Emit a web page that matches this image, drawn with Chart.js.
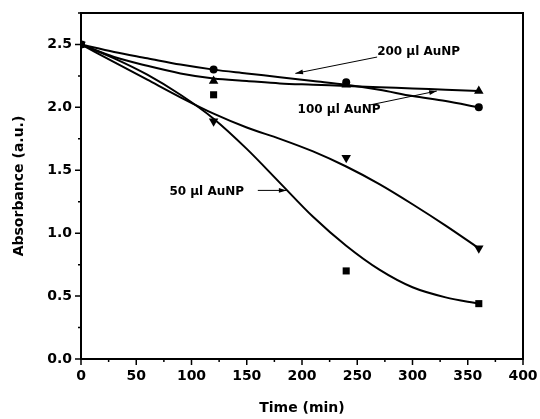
<!DOCTYPE html>
<html>
<head>
<meta charset="utf-8">
<script src="https://cdn.jsdelivr.net/npm/chart.js@4/dist/chart.umd.min.js"></script>
<style>
  html, body { margin: 0; padding: 0; background: #fff; }
  #wrap { width: 540px; height: 419px; }
</style>
</head>
<body>
<div id="wrap"><canvas id="chart" width="540" height="419"></canvas></div>
<script>
// measured points
const timeMin = [0, 120, 240, 360];
const abs200 = [2.5, 2.3, 2.2, 2.0];     // circles
const abs100 = [2.5, 2.21, 2.18, 2.13];  // up triangles
const abs50 = [2.5, 2.1, 0.7, 0.44];     // squares
const absDown = [2.5, 1.89, 1.6, 0.88];  // down triangles

// fitted curves
const fitTime = [0, 30, 60, 90, 120, 150, 180, 210, 240, 270, 300, 330, 360];
const fit200 = [2.5, 2.44, 2.39, 2.34, 2.30, 2.27, 2.24, 2.21, 2.18, 2.14, 2.09, 2.05, 2.0];
const fit100 = [2.5, 2.40, 2.33, 2.27, 2.23, 2.21, 2.19, 2.18, 2.17, 2.16, 2.15, 2.14, 2.13];
const fit50 = [2.5, 2.39, 2.26, 2.10, 1.91, 1.67, 1.40, 1.13, 0.90, 0.71, 0.57, 0.49, 0.44];
const fitDown = [2.5, 2.36, 2.22, 2.08, 1.95, 1.84, 1.75, 1.65, 1.53, 1.39, 1.23, 1.06, 0.88];

const labelText = ['200 \u00b5l AuNP', '100 \u00b5l AuNP', '50 \u00b5l AuNP'];

const FONT = '"DejaVu Sans", sans-serif';

function pts(xs, ys) {
    return xs.map((x, i) => ({ x: x, y: ys[i] }));
}

function markers(data, style, rot, r) {
    return {
        type: 'scatter',
        data: pts(timeMin, data),
        pointStyle: style,
        rotation: rot,
        pointRadius: r,
        backgroundColor: '#000',
        borderColor: '#000',
        borderWidth: 0,
        showLine: false
    };
}

function curve(data) {
    return {
        type: 'line',
        data: pts(fitTime, data),
        borderColor: '#000',
        borderWidth: 2,
        pointRadius: 0,
        cubicInterpolationMode: 'monotone',
        fill: false
    };
}

// border box, minor/major outward ticks
const frame = {
    id: 'frame',
    afterDraw(chart) {
        const { ctx, chartArea: a, scales: { x, y } } = chart;
        ctx.save();
        ctx.strokeStyle = '#000';
        ctx.lineWidth = 2;
        ctx.strokeRect(a.left, a.top, a.right - a.left, a.bottom - a.top);
        ctx.lineWidth = 1.5;
        ctx.beginPath();
        for (let t = 0; t <= 400; t += 25) {
            const px = x.getPixelForValue(t);
            const len = t % 50 === 0 ? 6 : 3;
            ctx.moveTo(px, a.bottom);
            ctx.lineTo(px, a.bottom + len);
        }
        for (let v = 0; v <= 2.75; v += 0.25) {
            const py = y.getPixelForValue(v);
            const len = Math.round(v * 4) % 2 === 0 ? 6 : 3;
            ctx.moveTo(a.left, py);
            ctx.lineTo(a.left - len, py);
        }
        ctx.stroke();
        ctx.restore();
    }
};

function arrow(ctx, x1, y1, x2, y2) {
    const ang = Math.atan2(y2 - y1, x2 - x1);
    ctx.beginPath();
    ctx.moveTo(x1, y1);
    ctx.lineTo(x2, y2);
    ctx.stroke();
    ctx.beginPath();
    ctx.moveTo(x2, y2);
    ctx.lineTo(x2 - 8 * Math.cos(ang - 0.3), y2 - 8 * Math.sin(ang - 0.3));
    ctx.lineTo(x2 - 8 * Math.cos(ang + 0.3), y2 - 8 * Math.sin(ang + 0.3));
    ctx.closePath();
    ctx.fill();
}

const notes = {
    id: 'notes',
    afterDatasetsDraw(chart) {
        const { ctx, scales: { x, y } } = chart;
        const X = v => x.getPixelForValue(v);
        const Y = v => y.getPixelForValue(v);
        ctx.save();
        ctx.fillStyle = '#000';
        ctx.strokeStyle = '#000';
        ctx.lineWidth = 1;
        ctx.font = 'bold 12px ' + FONT;
        ctx.textBaseline = 'middle';
        ctx.textAlign = 'left';
        ctx.fillText(labelText[0], X(268), Y(2.44));
        arrow(ctx, X(268), Y(2.40), X(194), Y(2.27));
        ctx.fillText(labelText[1], X(196), Y(1.98));
        arrow(ctx, X(262), Y(2.02), X(322), Y(2.13));
        ctx.fillText(labelText[2], X(80), Y(1.325));
        arrow(ctx, X(160), Y(1.34), X(186), Y(1.34));
        ctx.restore();
    }
};

new Chart(document.getElementById('chart'), {
    data: {
        datasets: [
            curve(fit200),
            curve(fit100),
            curve(fit50),
            curve(fitDown),
            markers(abs200, 'circle', 0, 4),
            markers(abs100, 'triangle', 0, 5.5),
            markers(abs50, 'rect', 0, 5),
            markers(absDown, 'triangle', 180, 5.5)
        ]
    },
    options: {
        responsive: false,
        animation: false,
        layout: { padding: { top: 13, right: 17, left: 0, bottom: 0 } },
        plugins: {
            legend: { display: false },
            tooltip: { enabled: false }
        },
        scales: {
            x: {
                type: 'linear',
                min: 0,
                max: 400,
                grid: { display: false, drawTicks: false, tickLength: 0 },
                border: { display: false },
                afterFit(s) { s.height = 60; s.paddingLeft = 0; s.paddingRight = 0; },
                ticks: {
                    stepSize: 50,
                    padding: 9,
                    color: '#000',
                    maxRotation: 0,
                    font: { family: FONT, size: 14, weight: 'bold' }
                },
                title: {
                    display: true,
                    text: 'Time (min)',
                    color: '#000',
                    padding: { top: 4, bottom: 2 },
                    font: { family: FONT, size: 14, weight: 'bold' }
                }
            },
            y: {
                type: 'linear',
                min: 0,
                max: 2.75,
                grid: { display: false, drawTicks: false, tickLength: 0 },
                border: { display: false },
                afterFit(s) { s.width = 81; s.paddingTop = 0; s.paddingBottom = 0; },
                ticks: {
                    stepSize: 0.5,
                    includeBounds: false,
                    padding: 9,
                    color: '#000',
                    font: { family: FONT, size: 14, weight: 'bold' },
                    callback: v => v.toFixed(1)
                },
                title: {
                    display: true,
                    text: 'Absorbance (a.u.)',
                    color: '#000',
                    padding: { top: 11, bottom: 4 },
                    font: { family: FONT, size: 14, weight: 'bold' }
                }
            }
        }
    },
    plugins: [frame, notes]
});
</script>
</body>
</html>
